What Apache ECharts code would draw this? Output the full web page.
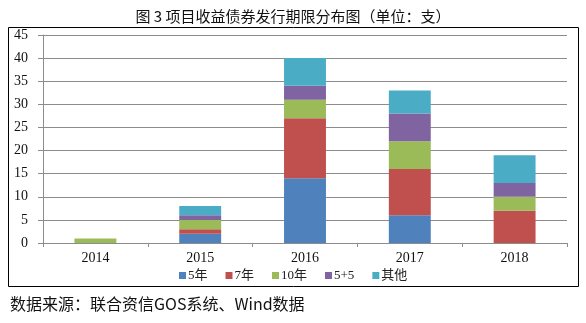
<!DOCTYPE html>
<html><head><meta charset="utf-8">
<script src="https://cdn.jsdelivr.net/npm/echarts@6/dist/echarts.min.js"></script>
<style>html,body{margin:0;padding:0;background:#fff}#c{width:586px;height:323px}</style>
</head><body><div id="c"></div>
<script>
const categories = ['2014', '2015', '2016', '2017', '2018'];
const seriesNames = ['5年', '7年', '10年', '5+5', '其他'];
const y5 = [0, 2, 14, 6, 0];
const y7 = [0, 1, 13, 10, 7];
const y10 = [1, 2, 4, 6, 3];
const y55 = [0, 1, 3, 6, 3];
const other = [0, 2, 6, 5, 6];
const yTicks = {min: 0, max: 45, interval: 5};
const titleText = '图 3 项目收益债券发行期限分布图（单位：支）';
const sourceText = '数据来源：联合资信GOS系统、Wind数据';

const colors = ['#4F81BD', '#C0504D', '#9BBB59', '#8064A2', '#4BACC6'];
const serif = '"Liberation Serif", "Noto Sans CJK SC", serif';
const values = [y5, y7, y10, y55, other];

const chart = echarts.init(document.getElementById('c'));
chart.setOption({
  animation: false,
  color: colors,
  title: {
    text: titleText, left: 'center', top: 4,
    textStyle: {fontSize: 15, fontWeight: 'normal', color: '#111', fontFamily: '"Noto Sans CJK SC", sans-serif'}
  },
  graphic: [
    {type: 'rect', shape: {x: 8.5, y: 27.5, width: 570, height: 259}, style: {fill: 'none', stroke: '#000', lineWidth: 1}, z: -1},
    {type: 'text', left: 10, top: 296, style: {text: sourceText, fontSize: 16, fill: '#111', fontFamily: '"Noto Sans CJK SC", sans-serif'}}
  ],
  legend: {
    data: seriesNames, left: 174, top: 264, icon: 'rect', itemWidth: 7, itemHeight: 7, itemGap: 18,
    textStyle: {fontSize: 13, color: '#222', fontFamily: serif, padding: [0, 0, 0, -3]}
  },
  grid: {left: 43, right: 19, top: 35, bottom: 80},
  xAxis: {
    type: 'category', data: categories,
    axisLine: {lineStyle: {color: '#8c8c8c', width: 1}},
    axisTick: {show: true, alignWithLabel: false, length: 4, lineStyle: {color: '#8c8c8c'}},
    axisLabel: {fontSize: 14, color: '#111', fontFamily: serif, margin: 8}
  },
  yAxis: {
    type: 'value', min: yTicks.min, max: yTicks.max, interval: yTicks.interval,
    axisLine: {show: true, lineStyle: {color: '#8c8c8c'}},
    axisTick: {show: true, length: 5, lineStyle: {color: '#8c8c8c'}},
    splitLine: {lineStyle: {color: '#8c8c8c', width: 1}},
    axisLabel: {fontSize: 14, color: '#111', fontFamily: serif, margin: 15, align: 'right'}
  },
  series: seriesNames.map((n, i) => ({
    name: n, type: 'bar', stack: 'total', barWidth: '40%', data: values[i]
  }))
});
</script></body></html>
